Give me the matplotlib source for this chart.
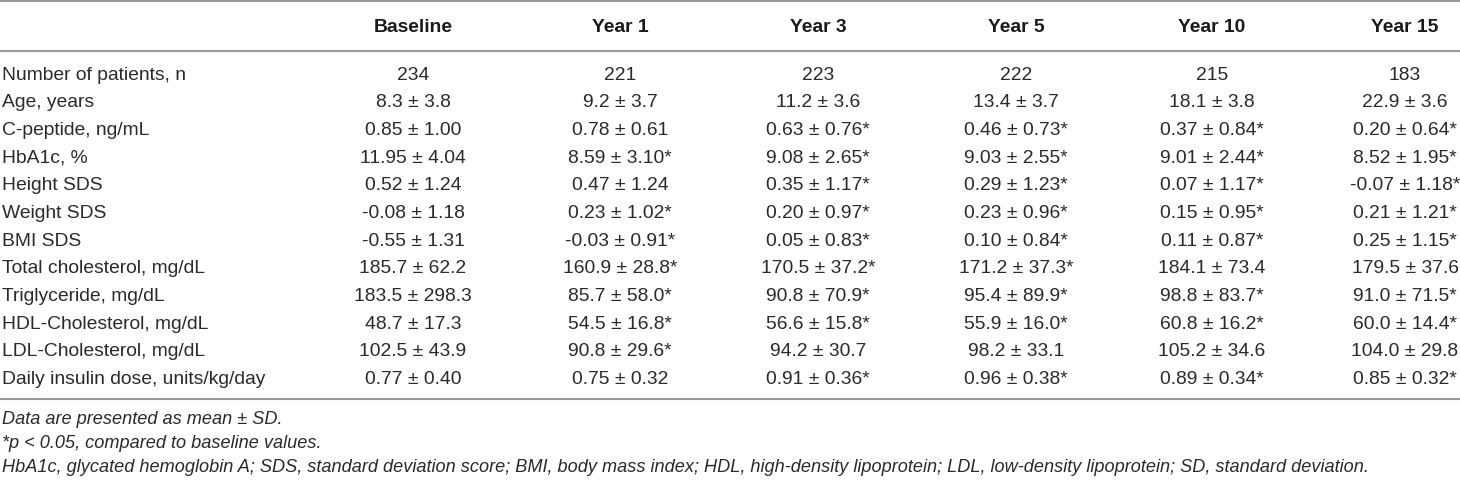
import matplotlib.pyplot as plt

# table content
columns = ["Baseline", "Year 1", "Year 3", "Year 5", "Year 10", "Year 15"]
row_labels = [
    "Number of patients, n",
    "Age, years",
    "C-peptide, ng/mL",
    "HbA1c, %",
    "Height SDS",
    "Weight SDS",
    "BMI SDS",
    "Total cholesterol, mg/dL",
    "Triglyceride, mg/dL",
    "HDL-Cholesterol, mg/dL",
    "LDL-Cholesterol, mg/dL",
    "Daily insulin dose, units/kg/day",
]
baseline = ["234", "8.3 ± 3.8", "0.85 ± 1.00", "11.95 ± 4.04", "0.52 ± 1.24", "-0.08 ± 1.18",
            "-0.55 ± 1.31", "185.7 ± 62.2", "183.5 ± 298.3", "48.7 ± 17.3", "102.5 ± 43.9", "0.77 ± 0.40"]
year1 = ["221", "9.2 ± 3.7", "0.78 ± 0.61", "8.59 ± 3.10*", "0.47 ± 1.24", "0.23 ± 1.02*",
         "-0.03 ± 0.91*", "160.9 ± 28.8*", "85.7 ± 58.0*", "54.5 ± 16.8*", "90.8 ± 29.6*", "0.75 ± 0.32"]
year3 = ["223", "11.2 ± 3.6", "0.63 ± 0.76*", "9.08 ± 2.65*", "0.35 ± 1.17*", "0.20 ± 0.97*",
         "0.05 ± 0.83*", "170.5 ± 37.2*", "90.8 ± 70.9*", "56.6 ± 15.8*", "94.2 ± 30.7", "0.91 ± 0.36*"]
year5 = ["222", "13.4 ± 3.7", "0.46 ± 0.73*", "9.03 ± 2.55*", "0.29 ± 1.23*", "0.23 ± 0.96*",
         "0.10 ± 0.84*", "171.2 ± 37.3*", "95.4 ± 89.9*", "55.9 ± 16.0*", "98.2 ± 33.1", "0.96 ± 0.38*"]
year10 = ["215", "18.1 ± 3.8", "0.37 ± 0.84*", "9.01 ± 2.44*", "0.07 ± 1.17*", "0.15 ± 0.95*",
          "0.11 ± 0.87*", "184.1 ± 73.4", "98.8 ± 83.7*", "60.8 ± 16.2*", "105.2 ± 34.6", "0.89 ± 0.34*"]
year15 = ["183", "22.9 ± 3.6", "0.20 ± 0.64*", "8.52 ± 1.95*", "-0.07 ± 1.18*", "0.21 ± 1.21*",
          "0.25 ± 1.15*", "179.5 ± 37.6", "91.0 ± 71.5*", "60.0 ± 14.4*", "104.0 ± 29.8", "0.85 ± 0.32*"]
footnotes = [
    "Data are presented as mean ± SD.",
    "*p < 0.05, compared to baseline values.",
    "HbA1c, glycated hemoglobin A; SDS, standard deviation score; BMI, body mass index; "
    "HDL, high-density lipoprotein; LDL, low-density lipoprotein; SD, standard deviation.",
]

plt.rcParams["font.family"] = ["Liberation Sans", "DejaVu Sans"]

W, H = 1460, 485
fig = plt.figure(figsize=(W / 100, H / 100), dpi=100)
ax = fig.add_axes([0, 0, 1, 1])
ax.set_xlim(0, W)
ax.set_ylim(H, 0)
ax.axis("off")

fs = 13.9
txt_color = "#2a2a2a"
line_color = "#9a9a9a"

col_x = [413, 620, 818, 1016, 1212, 1405]
header_y = 27
row_y0 = 75
row_dy = 27.7

for line_y in (2, 52, 400):
    ax.plot([0, W], [line_y, line_y], color=line_color, lw=1.5, solid_capstyle="butt")

for x, name in zip(col_x, columns):
    ax.text(x, header_y, name, ha="center", va="center", fontsize=fs, fontweight="bold", color="#1a1a1a")

series = [baseline, year1, year3, year5, year10, year15]
for i, label in enumerate(row_labels):
    y = row_y0 + i * row_dy
    ax.text(2, y, label, ha="left", va="center", fontsize=fs, color=txt_color)
    for x, vals in zip(col_x, series):
        ax.text(x, y, vals[i], ha="center", va="center", fontsize=fs, color=txt_color)

for j, note in enumerate(footnotes):
    ax.text(2, 420 + j * 24, note, ha="left", va="center", fontsize=13.1,
            style="italic", color=txt_color)

fig.savefig("out.png", dpi=100)
